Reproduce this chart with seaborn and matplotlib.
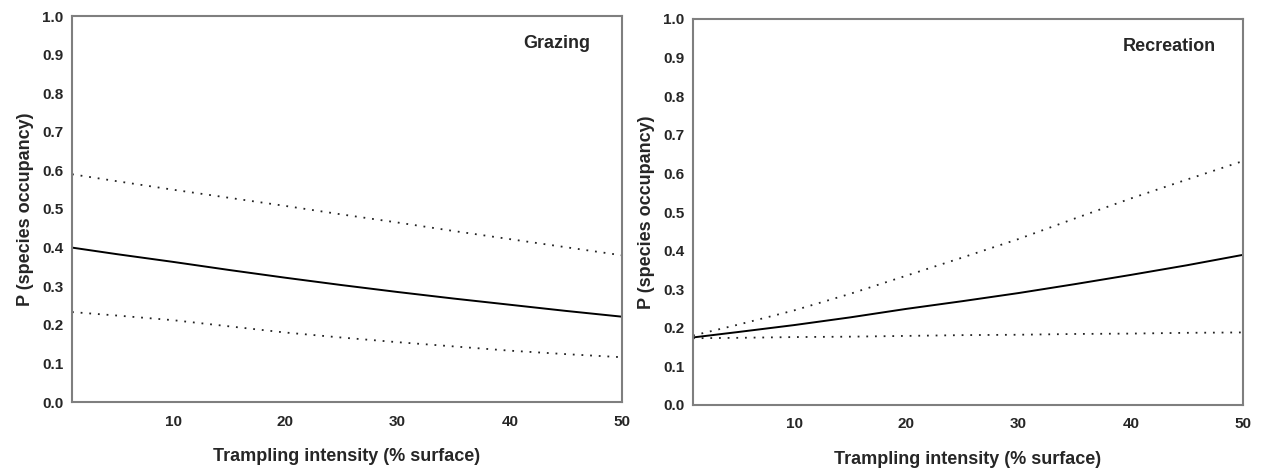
import numpy as np
import pandas as pd
import matplotlib
matplotlib.use("Agg")
import matplotlib.pyplot as plt
import seaborn as sns

# ---- data ----
x_vals = [1, 5, 10, 15, 20, 25, 30, 35, 40, 45, 50]

graz_fit   = [0.400, 0.383, 0.363, 0.342, 0.322, 0.303, 0.285, 0.268, 0.252, 0.236, 0.221]
graz_upper = [0.590, 0.572, 0.550, 0.529, 0.508, 0.486, 0.465, 0.443, 0.422, 0.401, 0.380]
graz_lower = [0.233, 0.224, 0.212, 0.196, 0.180, 0.167, 0.155, 0.144, 0.133, 0.124, 0.116]

rec_fit   = [0.175, 0.189, 0.207, 0.227, 0.249, 0.269, 0.290, 0.313, 0.337, 0.362, 0.389]
rec_upper = [0.180, 0.208, 0.245, 0.288, 0.335, 0.382, 0.430, 0.483, 0.535, 0.584, 0.632]
rec_lower = [0.173, 0.174, 0.176, 0.177, 0.179, 0.181, 0.182, 0.184, 0.185, 0.187, 0.188]

panel_titles = ["Grazing", "Recreation"]
x_label = "Trampling intensity (% surface)"
y_label = "P (species occupancy)"
x_ticks = [10, 20, 30, 40, 50]
y_ticks = [0.0, 0.1, 0.2, 0.3, 0.4, 0.5, 0.6, 0.7, 0.8, 0.9, 1.0]

sns.set_theme(style="white")
plt.rcParams['font.family'] = ['Liberation Sans', 'DejaVu Sans']

fig = plt.figure(figsize=(12.62, 4.71), dpi=100)
ax1 = fig.add_axes([72/1262, 1-402/471, 550/1262, 386/471])
ax2 = fig.add_axes([693/1262, 1-405/471, 550/1262, 386/471])

spine_col = "#7f7f7f"
panels = [
    (ax1, graz_fit, graz_upper, graz_lower, panel_titles[0], 1 - 32/550),
    (ax2, rec_fit, rec_upper, rec_lower, panel_titles[1], 1 - 27/550),
]
for ax, fit, up, lo, title, tx in panels:
    df = pd.DataFrame({"x": x_vals, "fit": fit, "up": up, "lo": lo})
    sns.lineplot(data=df, x="x", y="fit", ax=ax, color="black", linewidth=1.4)
    sns.lineplot(data=df, x="x", y="up", ax=ax, color="#222222", linewidth=1.3,
                 linestyle=(0, (1, 3.8)))
    sns.lineplot(data=df, x="x", y="lo", ax=ax, color="#222222", linewidth=1.3,
                 linestyle=(0, (1, 3.8)))
    ax.set_xlim(1, 50)
    ax.set_ylim(0, 1)
    ax.set_xticks(x_ticks)
    ax.set_yticks(y_ticks)
    ax.set_yticklabels([f"{v:.1f}" for v in y_ticks])
    ax.tick_params(direction="in", length=4, width=1.2, color=spine_col,
                   labelsize=11, pad=6)
    ax.tick_params(axis="x", pad=9)
    for lab in ax.get_xticklabels() + ax.get_yticklabels():
        lab.set_fontweight("bold")
    for s in ax.spines.values():
        s.set_visible(True)
        s.set_color(spine_col)
        s.set_linewidth(1.5)
    ax.set_xlabel(x_label, fontsize=13, fontweight="bold", labelpad=14)
    ax.set_ylabel(y_label, fontsize=13, fontweight="bold", labelpad=6)
    ax.text(tx, 0.93, title, transform=ax.transAxes, ha="right", va="center",
            fontsize=13, fontweight="bold")

fig.savefig("out.png", dpi=100)
